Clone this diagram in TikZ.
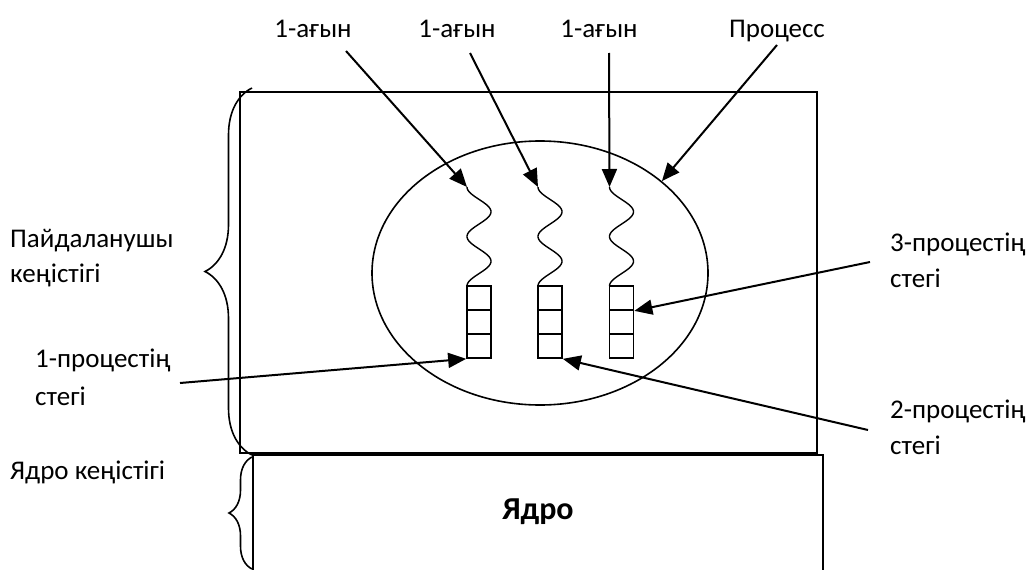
\documentclass[tikz,border=0pt]{standalone}
\usepackage{fontspec}
\setmainfont{Carlito}
\usetikzlibrary{arrows.meta,decorations.pathreplacing,shapes.geometric}
\begin{document}
\begin{tikzpicture}[x=1pt,y=-1pt,
  lbl/.style={inner sep=0pt, anchor=base west, font=\fontsize{27}{33}\selectfont},
  lblc/.style={inner sep=0pt, anchor=base, font=\fontsize{27}{33}\selectfont},
  arr/.style={line width=2pt, -{Triangle[length=18pt,width=15pt]}},
  box/.style={line width=1.7pt},
  cell/.style={draw, line width=1.7pt, minimum width=24pt, minimum height=24pt, inner sep=0pt},
  wave/.style={line width=1.4pt},
  brc/.style={line width=1.6pt, decorate, decoration={brace, amplitude=#1}}
]
\useasboundingbox (0,0) rectangle (1028,570);

% spaces
\draw[box] (240,92) rectangle (817,453);
\draw[box] (253,580) -- (253,455) -- (823,455) -- (823,580);
\draw[brc=47pt] (252,455) -- (252,88);
\draw[brc=23pt] (252,569) -- (252,457);

% process ellipse
\node[draw, ellipse, line width=1.6pt, minimum width=336pt, minimum height=264pt, inner sep=0pt] (proc) at (540,273) {};

% stacks
\foreach \s/\cx in {1/479,2/550,3/621.5}{
  \node[cell] (c\s1) at (\cx,298) {};
  \node[cell] (c\s2) at (\cx,322) {};
  \node[cell] (c\s3) at (\cx,346) {};
  \draw[wave] plot[domain=0:99,samples=90,smooth,variable=\u] ({\cx-12*cos(\u*7.2727)},{187+\u});
  \coordinate (w\s) at (\cx-12,187);
}

% labels
\node[lblc] (t1) at (313,37) {1-ағын};
\node[lblc] (t2) at (457,37) {1-ағын};
\node[lblc] (t3) at (599,37) {1-ағын};
\node[lblc] (t4) at (777,37) {Процесс};
\node[lbl] (u1) at (10,247) {Пайдаланушы};
\node[lbl] (u2) at (10,282) {кеңістігі};
\node[lbl] (k1) at (10,479) {Ядро кеңістігі};
\node[lbl] (p1a) at (35,367) {1-процестің};
\node[lbl] (p1b) at (35,405) {стегі};
\node[lbl] (p3a) at (890,251) {3-процестің};
\node[lbl] (p3b) at (890,287) {стегі};
\node[lbl] (p2a) at (890,418) {2-процестің};
\node[lbl] (p2b) at (890,454) {стегі};
\node[inner sep=0pt, anchor=base, font=\fontsize{32}{38}\selectfont\bfseries] (core) at (538,519) {Ядро};

% arrow starts
\coordinate (s1) at (346,51);
\coordinate (s2) at (470,53);
\coordinate (s3) at (609,53);
\coordinate (s4) at (777,45);
\coordinate (s5) at (180,383);
\coordinate (s6) at (868,430);
\coordinate (s7) at (870,262);

\draw[arr] (s1) -- (w1);
\draw[arr] (s2) -- (w2);
\draw[arr] (s3) -- (w3);
\draw[arr] (s4) -- (proc.37);
\draw[arr] (s5) -- (c13.south west);
\draw[arr] (s6) -- (c23.south east);
\draw[arr] (s7) -- (c31.south east);
\end{tikzpicture}
\end{document}
